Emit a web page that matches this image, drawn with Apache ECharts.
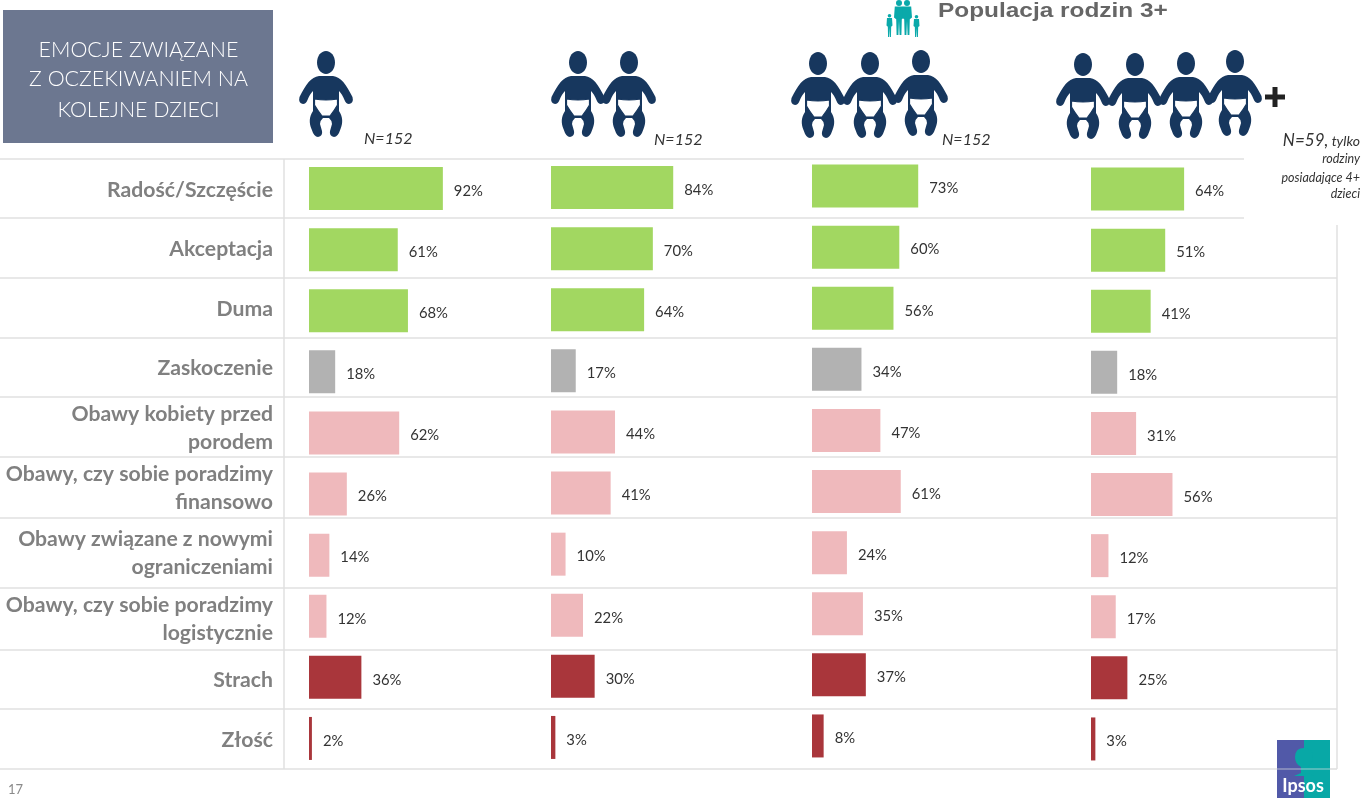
<!DOCTYPE html>
<html><head><meta charset="utf-8">
<style>html,body{margin:0;padding:0;background:#fff}#c{width:1363px;height:798px}</style>
<script src="https://cdn.jsdelivr.net/npm/echarts@6/dist/echarts.min.js"></script>
</head><body><div id="c"></div>
<script>
const categories = ['Radość/Szczęście','Akceptacja','Duma','Zaskoczenie','Obawy kobiety przed\nporodem','Obawy, czy sobie poradzimy\nfinansowo','Obawy związane z nowymi\nograniczeniami','Obawy, czy sobie poradzimy\nlogistycznie','Strach','Złość'];
const oneChild = [92,61,68,18,62,26,14,12,36,2];
const twoChildren = [84,70,64,17,44,41,10,22,30,3];
const threeChildren = [73,60,56,34,47,61,24,35,37,8];
const fourPlusChildren = [64,51,41,18,31,56,12,17,25,3];
const rowColors = ['#A2D761','#A2D761','#A2D761','#B2B2B2','#EFB9BC','#EFB9BC','#EFB9BC','#EFB9BC','#A9363B','#A9363B'];
const rowLabelCentres = [190,249,309,368,428,488,553,619,680,740];
const panels = [
  {name:'1 dziecko', data:oneChild, left:309, top:158},
  {name:'2 dzieci', data:twoChildren, left:551, top:157},
  {name:'3 dzieci', data:threeChildren, left:812, top:155.5},
  {name:'4+ dzieci', data:fourPlusChildren, left:1091, top:158.5}
];
const ruleColor = '#E1E1E1';
const hRules = [[159,1244],[218,1244],[278,1337],[338,1337],[397,1337],[457,1337],[518,1337],[588,1337],[650,1337],[709,1337],[769,1337]];

const reg = (n,d)=>echarts.graphic.registerShape(n, echarts.graphic.extendPath(d));
reg('babyBody','M-7,25 L7,25 C15,26 20,33 26.5,46 Q28,52 23,53 Q20,53 18.5,49 C17,45 15,42 13,40 L13,62 L-13,62 L-13,40 C-15,42 -17,45 -18.5,49 Q-20,53 -23,53 Q-28,52 -26.5,46 C-20,33 -15,26 -7,25 Z');
reg('babyLegs','M-13,60 C-17,66 -17,72 -14.5,78 Q-12,86 -8,86 Q-3,85 -4,80 L-6,73 Q-5.5,69 -3,67 L3,67 Q5.5,69 6,73 L4,80 Q3,85 8,86 Q12,86 14.5,78 C17,72 17,66 13,60 Z');
reg('babyDiaper','M-11.5,48 Q0,50 11.5,48 L11.5,54 Q8,60 4,65 L-4,65 Q-8,60 -11.5,54 Z');
reg('logoTree','M1304,748 Q1313,748 1313,757 Q1313,764 1307,767 L1307,773 L1314,776 L1294,776 L1301,773 L1301,767 Q1295,764 1295,757 Q1295,748 1304,748 Z');

function baby(cx, top){
  const dark = '#17375E';
  return {type:'group', x:cx, y:top, children:[
    {type:'ellipse', shape:{cx:0,cy:11.5,rx:9,ry:11.5}, style:{fill:dark}},
    {type:'babyBody', style:{fill:dark}},
    {type:'babyLegs', style:{fill:dark}},
    {type:'babyDiaper', style:{fill:'#fff', stroke:dark, lineWidth:1.2}}
  ]};
}
function person(cx, top, h, w){
  const teal = '#0AA9AA';
  const hr = w*0.3;
  return {type:'group', x:cx, y:top, children:[
    {type:'circle', shape:{cx:0,cy:hr,r:hr}, style:{fill:teal}},
    {type:'polygon', shape:{points:[[-w*0.42,hr*2.2],[w*0.42,hr*2.2],[w*0.5,h*0.5],[w*0.28,h*0.55],[w*0.24,h],[w*0.06,h],[0,h*0.6],[-w*0.06,h],[-w*0.24,h],[-w*0.28,h*0.55],[-w*0.5,h*0.5]]}, style:{fill:teal}}
  ]};
}
function textEl(x,y,text,size,fill,extra){
  return {type:'text', x:x, y:y, style:Object.assign({text:text, fontFamily:'Lato', fontSize:size, fill:fill, verticalAlign:'middle'}, extra||{})};
}
const graphics = [];
hRules.forEach(r=>graphics.push({type:'line', shape:{x1:0,y1:r[0],x2:r[1],y2:r[0]}, style:{stroke:ruleColor,lineWidth:1.5}}));
graphics.push({type:'line', shape:{x1:284,y1:159,x2:284,y2:769}, style:{stroke:ruleColor,lineWidth:1.5}});
graphics.push({type:'line', shape:{x1:1337,y1:225,x2:1337,y2:769}, style:{stroke:ruleColor,lineWidth:1.5}});
graphics.push({type:'rect', shape:{x:3,y:10,width:270,height:133}, style:{fill:'#6C7790'}});
[['EMOCJE ZWIĄZANE',50],['Z OCZEKIWANIEM NA',79],['KOLEJNE DZIECI',110]].forEach(l=>graphics.push(textEl(138.5,l[1],l[0],21.4,'#fff',{align:'center',fontWeight:300})));
const babyX=[326,578,629,818,870,921,1083,1135,1186,1235], babyTop=[51,51,51,52,52,50,53,53,52,50];
babyX.forEach((x,i)=>graphics.push(baby(x,babyTop[i])));
graphics.push({type:'polygon', shape:{points:[[1272.5,87],[1277.5,87],[1277.5,94.5],[1285,94.5],[1285,99.5],[1277.5,99.5],[1277.5,107],[1272.5,107],[1272.5,99.5],[1265,99.5],[1265,94.5],[1272.5,94.5]]}, style:{fill:'#222'}});
graphics.push(person(889.5,14,23,6), person(899,0,35,10), person(907,0,35,10), person(916.5,15,22,6));
graphics.push({type:'text', x:938, y:11, scaleX:1.22, style:{text:'Populacja rodzin 3+', fontFamily:'Liberation Sans', fontWeight:'bold', fontSize:20, fill:'#666', verticalAlign:'middle'}});
[[364,139],[654,140],[942,140]].forEach(p=>graphics.push(textEl(p[0],p[1],'N=152',16,'#333',{fontStyle:'italic'})));
graphics.push({type:'text', x:1360, y:141, style:{text:'{a|N=59,} {b|tylko}', align:'right', verticalAlign:'middle', rich:{a:{fontFamily:'Lato',fontStyle:'italic',fontSize:17,fill:'#333'},b:{fontFamily:'Lato',fontStyle:'italic',fontSize:14,fill:'#333'}}}});
[['rodziny',159],['posiadające 4+',178],['dzieci',194]].forEach(l=>graphics.push(textEl(1360,l[1],l[0],12.5,'#333',{fontStyle:'italic',align:'right'})));
graphics.push(textEl(8,790,'17',13,'#8a8a8a'));
graphics.push({type:'rect', shape:{x:1277,y:740,width:27,height:58}, style:{fill:'#5159A8'}});
graphics.push({type:'rect', shape:{x:1304,y:740,width:26,height:58}, style:{fill:'#08A8A6'}});
graphics.push({type:'logoTree', style:{fill:'#08A8A6'}});
graphics.push({type:'line', shape:{x1:1277,y1:769,x2:1337,y2:769}, style:{stroke:ruleColor,lineWidth:1.2,opacity:.7}});
graphics.push(textEl(1303,786,'Ipsos',18,'#fff',{align:'center',fontWeight:'bold'}));

const option = {
  animation:false,
  backgroundColor:'#fff',
  grid: panels.map(p=>({left:p.left, top:p.top, width:145.5, height:611})).concat([{left:273, top:0, width:10, height:798}]),
  xAxis: panels.map((p,i)=>({type:'value', gridIndex:i, min:0, max:100, show:false})).concat([{type:'value', gridIndex:4, min:0, max:1, show:false}]),
  yAxis: panels.map((p,i)=>({
    type:'category', gridIndex:i, inverse:true, data:categories, show:false
  })).concat([{
    type:'value', gridIndex:4, inverse:true, min:0, max:798,
    axisLine:{show:false}, axisTick:{show:false}, splitLine:{show:false},
    axisLabel:{show:true, margin:0, customValues:rowLabelCentres, formatter:v=>categories[rowLabelCentres.indexOf(v)],
      fontFamily:'Lato', fontWeight:'bold', fontSize:21.2, lineHeight:28, color:'#808080', align:'right', verticalAlign:'middle'}
  }]),
  series: panels.map((p,i)=>({
    type:'bar', name:p.name, xAxisIndex:i, yAxisIndex:i, barWidth:43,
    data:p.data.map((v,k)=>({value:v, itemStyle:{color:rowColors[k]}})),
    label:{show:true, position:'right', distance:11, offset:[0,2.5], formatter:'{c}%', fontFamily:'Lato', fontSize:14.8, color:'#333'}
  })),
  graphic:{elements:graphics}
};
echarts.init(document.getElementById('c')).setOption(option);
</script></body></html>
